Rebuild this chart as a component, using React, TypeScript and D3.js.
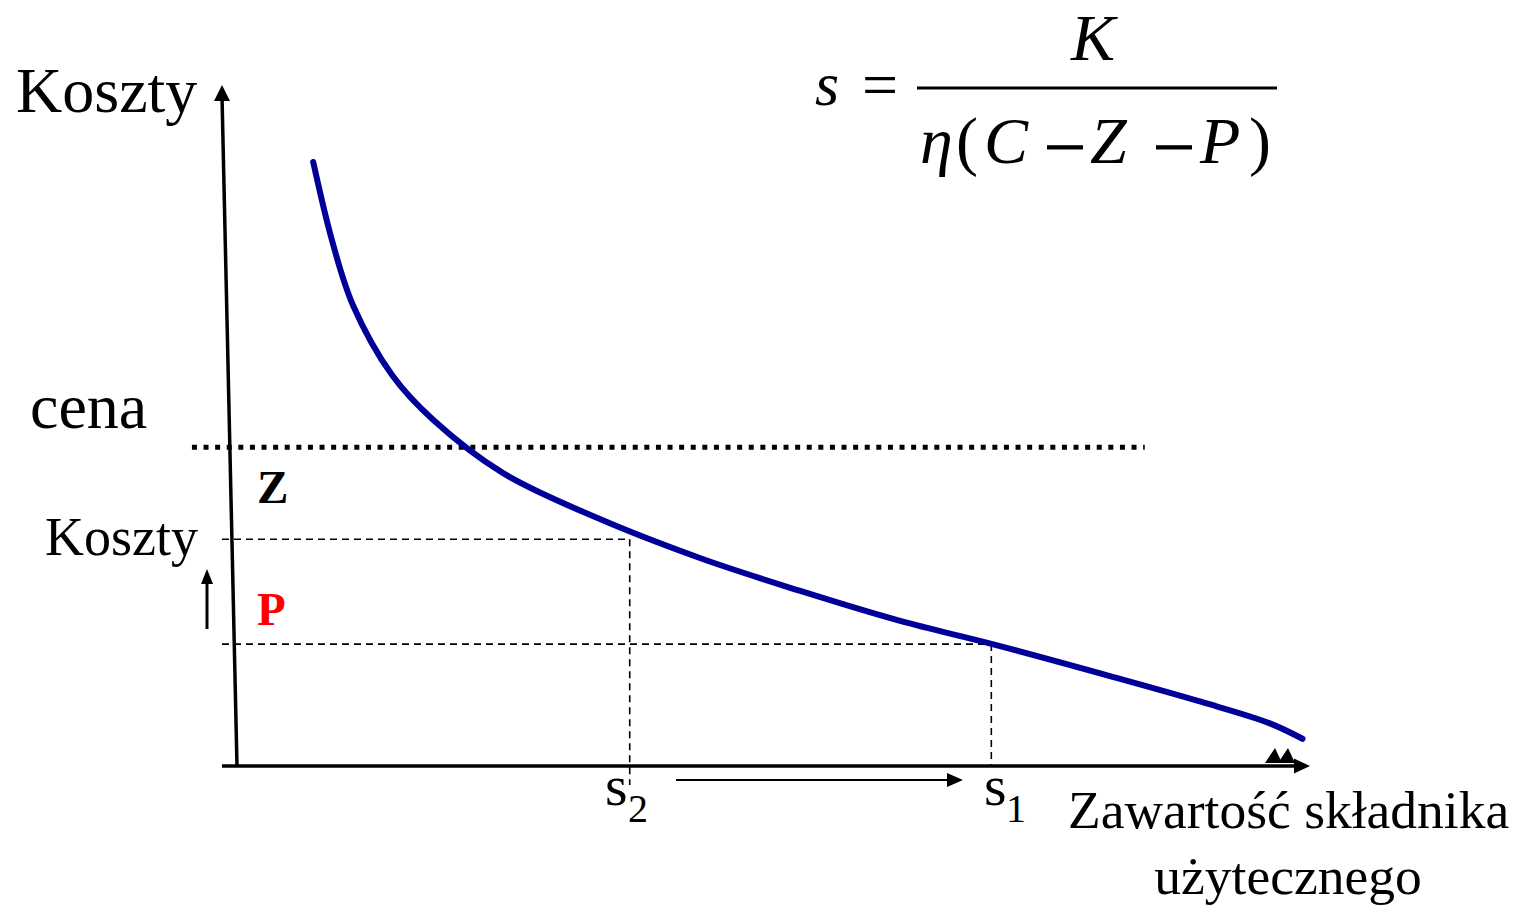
import * as d3 from 'd3'
import { useEffect, useRef } from 'react'

// curve: cost vs useful-component content (0..100 units both ways)
const curveX = [7.1, 8.85, 10.8, 14.5, 18.3, 24.8, 33.6, 43.2, 52.5, 61.8, 70.4, 81.6, 89.9, 96.2, 99.3]
const curveY = [88.7, 77.2, 67.7, 57.3, 50.8, 43.0, 36.4, 30.5, 25.7, 21.3, 17.9, 13.1, 9.4, 6.3, 4.0]

// reference levels
const cenaLevel = 46.8
const kosztyLevel = 33.3
const pLevel = 17.9
const s2Value = 36.6
const s1Value = 70.3
const axisLean = -1.4 // y axis top sits a bit left of its foot
const cenaStart = -4.2
const cenaEnd = 84.6

const serif = '"Liberation Serif", "Times New Roman", serif'

export default function App() {
  const gRef = useRef<SVGGElement>(null)
  const width = 1518
  const height = 916

  useEffect(() => {
    const g = d3.select(gRef.current)
    g.selectAll('*').remove()

    const x = d3.scaleLinear().domain([0, 100]).range([237, 1310])
    const y = d3.scaleLinear().domain([0, 100]).range([766, 85])

    // dotted price line
    g.append('line')
      .attr('x1', x(cenaStart)).attr('x2', x(cenaEnd))
      .attr('y1', y(cenaLevel)).attr('y2', y(cenaLevel))
      .attr('stroke', '#000').attr('stroke-width', 5)
      .attr('stroke-dasharray', '5 6.6')

    // dashed helper lines
    const dashed = (x1: number, y1: number, x2: number, y2: number) =>
      g.append('line')
        .attr('x1', x1).attr('y1', y1).attr('x2', x2).attr('y2', y2)
        .attr('stroke', '#000').attr('stroke-width', 1.6)
        .attr('stroke-dasharray', '7 5')

    dashed(x(axisLean), y(kosztyLevel), x(s2Value), y(kosztyLevel))
    dashed(x(s2Value), y(kosztyLevel), x(s2Value), y(-2.8))
    dashed(x(axisLean), y(pLevel), x(s1Value), y(pLevel))
    dashed(x(s1Value), y(pLevel), x(s1Value), y(0))

    // axes
    g.append('line')
      .attr('x1', x(0)).attr('y1', y(0))
      .attr('x2', x(axisLean)).attr('y2', y(100) + 10)
      .attr('stroke', '#000').attr('stroke-width', 3.5)
    g.append('path')
      .attr('d', `M${x(axisLean)},${y(100)} l-8,16 l16,0 z`)
      .attr('fill', '#000')

    g.append('line')
      .attr('x1', x(axisLean)).attr('y1', y(0))
      .attr('x2', x(100) - 10).attr('y2', y(0))
      .attr('stroke', '#000').attr('stroke-width', 3.5)
    g.append('path')
      .attr('d', `M${x(100)},${y(0)} l-16,-7.5 l0,15 z`)
      .attr('fill', '#000')
    // two little stray arrowheads near the end of the x axis
    ;[1275, 1288].forEach((cx) => {
      g.append('path')
        .attr('d', `M${cx},${y(0) - 18} l-10,15 l17,0 z`)
        .attr('fill', '#000')
    })

    // cost curve
    const line = d3.line<number>()
      .x((d, i) => x(curveX[i]))
      .y((d) => y(d))
      .curve(d3.curveCatmullRom.alpha(0.5))

    g.append('path')
      .attr('d', line(curveY))
      .attr('fill', 'none')
      .attr('stroke', '#000099')
      .attr('stroke-width', 6)
      .attr('stroke-linecap', 'round')

    // small up arrow next to the lower "Koszty"
    g.append('line')
      .attr('x1', 207).attr('y1', 629).attr('x2', 207).attr('y2', 582)
      .attr('stroke', '#000').attr('stroke-width', 3)
    g.append('path').attr('d', 'M207,569 l-6,15 l12,0 z').attr('fill', '#000')

    // arrow s2 -> s1
    g.append('line')
      .attr('x1', 676).attr('y1', 780).attr('x2', 950).attr('y2', 780)
      .attr('stroke', '#000').attr('stroke-width', 2)
    g.append('path').attr('d', 'M963,780 l-16,-7 l0,14 z').attr('fill', '#000')
  }, [])

  const txt = { fontFamily: serif, fill: '#000' }

  return (
    <svg width={width} height={height}
      style={{ position: 'absolute', left: 0, top: 0, background: '#fff' }}>
      <g ref={gRef} />
      <g>
        <text x={16} y={112} fontSize={64} style={txt}>Koszty</text>
        <text x={30} y={428} fontSize={64} style={txt}>cena</text>
        <text x={45} y={555} fontSize={54} style={txt}>Koszty</text>
        <text x={257} y={503} fontSize={47} fontWeight="bold" style={txt}>Z</text>
        <text x={257} y={625} fontSize={47} fontWeight="bold" style={{ ...txt, fill: '#ff0000' }}>P</text>

        <text x={605} y={805} fontSize={58} style={txt}>s</text>
        <text x={628} y={822} fontSize={40} style={txt}>2</text>
        <text x={984} y={805} fontSize={58} style={txt}>s</text>
        <text x={1006} y={822} fontSize={40} style={txt}>1</text>

        <text x={1068} y={828} fontSize={53.5} style={txt}>Zawartość składnika</text>
        <text x={1288} y={894} fontSize={53.5} textAnchor="middle" style={txt}>użytecznego</text>

        {/* formula s = K / η(C – Z – P) */}
        <text x={815} y={105} fontSize={62} fontStyle="italic" style={txt}>s</text>
        <text x={862} y={106} fontSize={64} style={txt}>=</text>
        <line x1={917} x2={1277} y1={88} y2={88} stroke="#000" strokeWidth={3} />
        <text x={1093} y={60} fontSize={66} fontStyle="italic" textAnchor="middle" style={txt}>K</text>
        <text x={920} y={163} fontSize={66} fontStyle="italic" style={txt}>η</text>
        <text x={956} y={163} fontSize={66} style={txt}>(</text>
        <text x={984} y={163} fontSize={66} fontStyle="italic" style={txt}>C</text>
        <text x={1048} y={163} fontSize={68} stroke="#000" strokeWidth={1} style={txt}>–</text>
        <text x={1090} y={163} fontSize={66} fontStyle="italic" style={txt}>Z</text>
        <text x={1157} y={163} fontSize={68} stroke="#000" strokeWidth={1} style={txt}>–</text>
        <text x={1200} y={163} fontSize={66} fontStyle="italic" style={txt}>P</text>
        <text x={1249} y={163} fontSize={66} style={txt}>)</text>
      </g>
    </svg>
  )
}
